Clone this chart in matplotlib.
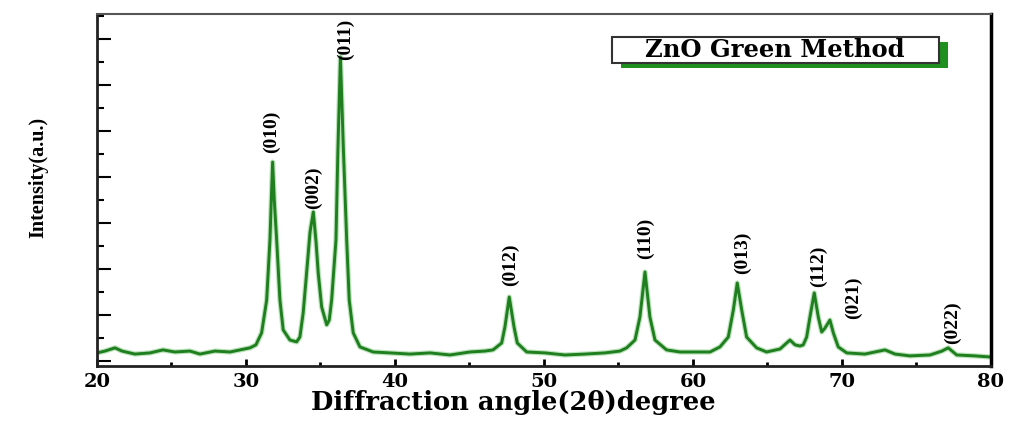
import matplotlib.pyplot as plt
import matplotlib.patches as mpatches
from matplotlib.ticker import MultipleLocator

# XRD pattern (2theta in degrees, intensity in a.u.)
two_theta = [20.0, 20.54, 21.21, 21.68, 22.55, 23.56, 24.43, 25.23, 26.24, 26.91,
             27.92, 28.93, 29.60, 30.27, 30.67, 31.05, 31.39, 31.61, 31.70, 31.79,
             31.90, 32.06, 32.28, 32.50, 32.95, 33.40, 33.62, 33.84, 34.07, 34.30,
             34.52, 34.70, 34.85, 35.08, 35.42, 35.59, 35.75, 36.04, 36.17, 36.34,
             36.54, 36.76, 36.93, 37.20, 37.65, 38.54, 39.66, 41.01, 42.35, 43.69,
             45.03, 46.04, 46.58, 47.16, 47.38, 47.67, 47.99, 48.21, 48.84, 50.07,
             51.41, 52.75, 54.09, 55.10, 55.55, 56.11, 56.44, 56.78, 57.11, 57.45,
             58.23, 59.13, 60.00, 61.14, 61.81, 62.37, 62.71, 62.97, 63.27, 63.60,
             64.27, 64.94, 65.84, 66.51, 66.85, 67.18, 67.40, 67.63, 67.85, 68.14,
             68.41, 68.64, 68.86, 69.19, 69.42, 69.75, 70.32, 71.54, 72.89, 73.56,
             74.56, 75.91, 76.71, 77.13, 77.70, 78.93, 80.0]
intensity = [35, 43, 57, 43, 30, 35, 48, 39, 43, 30,
             43, 39, 48, 57, 70, 122, 265, 526, 700, 865,
             700, 526, 265, 135, 91, 83, 104, 209, 383, 560,
             648, 520, 383, 235, 157, 178, 265, 526, 917, 1322,
             917, 526, 265, 122, 61, 39, 35, 30, 35, 26,
             39, 43, 48, 78, 148, 278, 148, 78, 39, 35,
             26, 30, 35, 43, 57, 91, 191, 387, 191, 91,
             48, 39, 39, 39, 61, 104, 222, 339, 222, 104,
             57, 39, 52, 91, 70, 65, 70, 104, 191, 296,
             191, 126, 143, 178, 122, 61, 35, 30, 48, 30,
             22, 26, 43, 57, 26, 22, 17]

# peak labels: text, x, y (data units)
peak_names = ['(010)', '(002)', '(011)', '(012)', '(110)', '(013)', '(112)', '(021)', '(022)']
peak_x = [31.68, 34.52, 36.71, 47.72, 56.78, 63.30, 68.39, 70.74, 77.40]
peak_y = [996, 754, 1400, 417, 535, 470, 413, 276, 165]

fig = plt.figure(figsize=(10.11, 4.25), dpi=100)
ax = fig.add_axes([0.0959, 0.1388, 0.8843, 0.8282])

ax.plot(two_theta, intensity, color='#8fd08f', lw=3.8, alpha=0.6, solid_joinstyle='round')
ax.plot(two_theta, intensity, color='#1f7f1f', lw=2.1, solid_joinstyle='round')

ax.set_xlim(20, 80)
ax.set_ylim(-22, 1509)

ax.xaxis.set_major_locator(MultipleLocator(10))
ax.xaxis.set_minor_locator(MultipleLocator(5))
ax.yaxis.set_major_locator(MultipleLocator(200))
ax.yaxis.set_minor_locator(MultipleLocator(100))
ax.tick_params(axis='x', which='major', direction='in', length=5, width=2, pad=5,
               labelsize=14, top=False)
ax.tick_params(axis='x', which='minor', direction='in', length=3, width=2, top=False)
ax.tick_params(axis='y', which='major', direction='in', length=10, width=1.5,
               labelleft=False, right=False)
ax.tick_params(axis='y', which='minor', direction='in', length=5, width=1.5, right=False)
for lab in ax.get_xticklabels():
    lab.set_fontfamily('DejaVu Serif')
    lab.set_fontweight('bold')

ax.spines['top'].set_color('#555555')
ax.spines['top'].set_linewidth(1.5)
ax.spines['right'].set_color('black')
ax.spines['right'].set_linewidth(2.5)
ax.spines['left'].set_color('#222222')
ax.spines['left'].set_linewidth(2)
ax.spines['bottom'].set_color('#222222')
ax.spines['bottom'].set_linewidth(2)

ax.set_xlabel('Diffraction angle(2θ)degree', fontfamily='DejaVu Serif',
              fontweight='bold', fontsize=18.5)
ax.xaxis.set_label_coords(0.466, -0.068)
ax.set_ylabel('Intensity(a.u.)', fontfamily='Liberation Serif', fontweight='bold',
              fontsize=14.5)
ax.yaxis.set_label_coords(-0.054, 0.535)

for name, px, py in zip(peak_names, peak_x, peak_y):
    ax.text(px, py, name, rotation=90, ha='center', va='center',
            fontfamily='Liberation Serif', fontweight='bold', fontsize=14)

# legend-like box with green drop shadow
ax.add_patch(mpatches.Rectangle((0.586, 0.847), 0.3654, 0.0735, transform=ax.transAxes,
                                facecolor='#1f8f1f', edgecolor='none', zorder=5))
ax.add_patch(mpatches.Rectangle((0.576, 0.861), 0.3654, 0.0745, transform=ax.transAxes,
                                facecolor='white', edgecolor='#333333', lw=1.5, zorder=6))
ax.text(0.7587, 0.898, 'ZnO Green Method', transform=ax.transAxes, ha='center',
        va='center', fontfamily='DejaVu Serif', fontweight='bold', fontsize=17.5, zorder=7)

fig.savefig('out.png', dpi=100)
